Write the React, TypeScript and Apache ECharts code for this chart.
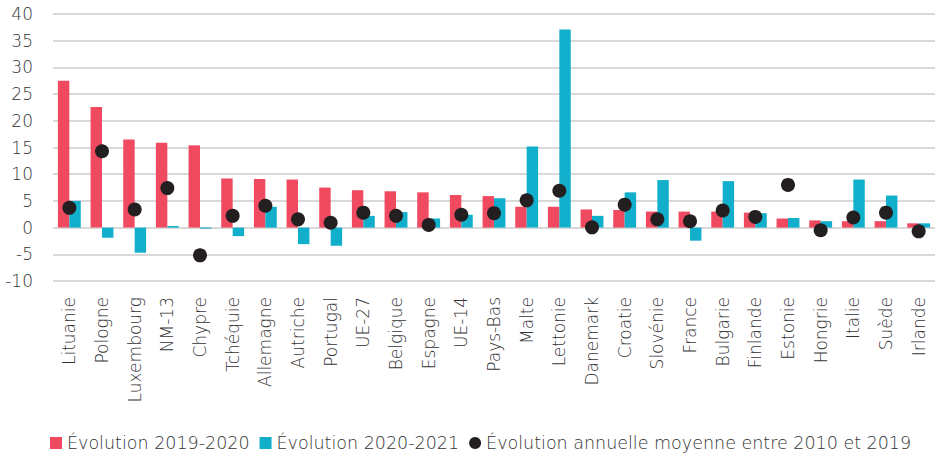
import React, { useEffect, useRef } from "react";
import * as echarts from "echarts";

const categories = ["Lituanie","Pologne","Luxembourg","NM-13","Chypre","Tchéquie","Allemagne","Autriche","Portugal","UE-27","Belgique","Espagne","UE-14","Pays-Bas","Malte","Lettonie","Danemark","Croatie","Slovénie","France","Bulgarie","Finlande","Estonie","Hongrie","Italie","Suède","Irlande"];
const evol2019_2020 = [27.5,22.6,16.5,15.9,15.4,9.2,9.1,9.0,7.5,7.0,6.8,6.6,6.1,5.9,3.9,3.9,3.4,3.3,3.0,3.0,3.0,2.8,1.7,1.35,1.2,1.2,0.8];
const evol2020_2021 = [5.0,-1.9,-4.7,0.3,-0.2,-1.6,3.9,-3.1,-3.4,2.2,2.9,1.7,2.4,5.5,15.2,37.1,2.2,6.6,8.9,-2.45,8.7,2.7,1.8,1.2,9.0,6.0,0.8];
const evolMoy2010_2019 = [3.7,14.3,3.4,7.4,-5.2,2.2,4.1,1.55,0.9,2.8,2.2,0.5,2.4,2.7,5.1,6.9,0.05,4.3,1.55,1.2,3.2,2.0,8.0,-0.5,1.9,2.8,-0.7];
const yTicks = { min: -10, max: 40, interval: 5 };
const seriesNames = ["Évolution 2019-2020","Évolution 2020-2021","Évolution annuelle moyenne entre 2010 et 2019"];

const FONT = "DejaVu Sans";
const TXT = "#333333";

export default function App() {
  const ref = useRef<HTMLDivElement>(null);
  useEffect(() => {
    if (!ref.current) return;
    const chart = echarts.init(ref.current, undefined, { renderer: "svg" });
    chart.setOption({
      animation: false,
      textStyle: { fontFamily: FONT, color: TXT },
      grid: { left: 53, right: 2, top: 14, bottom: 176, containLabel: false },
      legend: {
        left: 50, top: 432,
        padding: 0,
        itemWidth: 12, itemHeight: 12, itemGap: 10,
        textStyle: { fontFamily: FONT, fontSize: 17.5, color: TXT, fontWeight: 300, lineHeight: 22 },
        data: [
          { name: seriesNames[0], icon: "rect" },
          { name: seriesNames[1], icon: "rect" },
          { name: seriesNames[2], icon: "circle" },
        ],
      },
      xAxis: {
        type: "category",
        data: categories,
        axisLine: { show: false, onZero: false },
        axisTick: { show: false },
        axisLabel: { rotate: 90, interval: 0, margin: 16, fontSize: 17, color: TXT, fontFamily: FONT, fontWeight: 300 },
      },
      yAxis: {
        type: "value",
        min: yTicks.min, max: yTicks.max, interval: yTicks.interval,
        axisLine: { show: false },
        axisTick: { show: false },
        axisLabel: { fontSize: 17, color: TXT, margin: 20, fontFamily: FONT, fontWeight: 300 },
        splitLine: { lineStyle: { color: "#d9d9d9", width: 2 } },
      },
      series: [
        { name: seriesNames[0], type: "bar", data: evol2019_2020, itemStyle: { color: "#ef4a60" }, barGap: "0%", barCategoryGap: "30%" },
        { name: seriesNames[1], type: "bar", data: evol2020_2021, itemStyle: { color: "#11afcb" } },
        { name: seriesNames[2], type: "scatter", data: evolMoy2010_2019, symbol: "circle", symbolSize: 14, itemStyle: { color: "#231f20", opacity: 1 }, z: 5 },
      ],
    });
    return () => chart.dispose();
  }, []);
  return <div ref={ref} style={{ width: 937, height: 457, position: "absolute", left: 0, top: 0 }} />;
}
